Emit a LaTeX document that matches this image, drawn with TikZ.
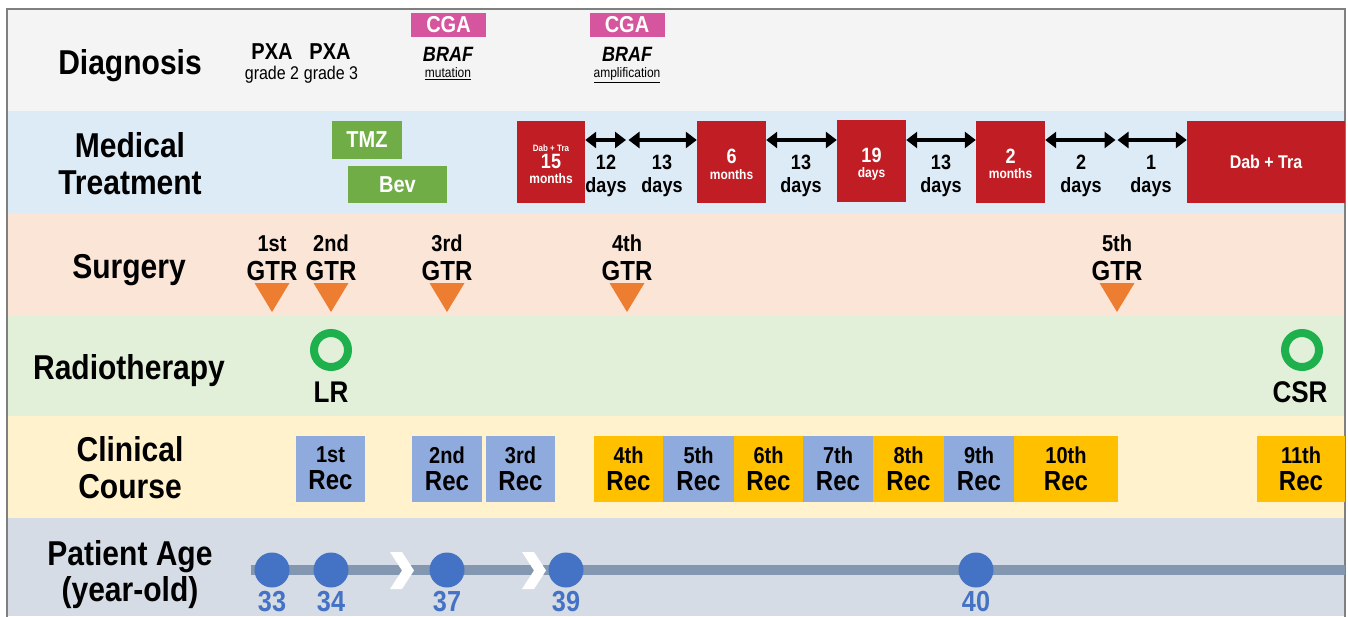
\documentclass[tikz,border=0pt]{standalone}
\usepackage{fontspec}
\setmainfont[FakeStretch=0.87]{Liberation Sans}
\usetikzlibrary{arrows.meta}
\definecolor{diagbg}{HTML}{F4F4F4}
\definecolor{medbg}{HTML}{DDEBF7}
\definecolor{surgbg}{HTML}{FBE5D6}
\definecolor{radbg}{HTML}{E2F0D9}
\definecolor{clinbg}{HTML}{FFF2CC}
\definecolor{agebg}{HTML}{D6DCE5}
\definecolor{cgapink}{HTML}{D5569E}
\definecolor{medgreen}{HTML}{70AD47}
\definecolor{medred}{HTML}{C01E24}
\definecolor{surgorange}{HTML}{ED7D31}
\definecolor{ringgreen}{HTML}{1DB04C}
\definecolor{recblue}{HTML}{8FAADC}
\definecolor{recyellow}{HTML}{FFC000}
\definecolor{agelinec}{HTML}{8497B0}
\definecolor{agedotc}{HTML}{4472C4}
\definecolor{framec}{HTML}{7F7F7F}
\tikzset{
  lab/.style={font=\bfseries\fontsize{34.5}{40}\selectfont, anchor=base, inner sep=0pt},
  diagb/.style={font=\bfseries\fontsize{23}{26}\selectfont, anchor=base, inner sep=0pt},
  diags/.style={font=\fontsize{18.4}{21}\selectfont, anchor=base, inner sep=0pt},
  cgabox/.style={fill=cgapink, text=white, font=\bfseries\fontsize{23}{26}\selectfont, minimum width=75pt, minimum height=24pt, inner sep=0pt},
  braf/.style={font=\bfseries\itshape\fontsize{20.7}{24}\selectfont, anchor=base, inner sep=0pt},
  ultxt/.style={font=\fontsize{13.8}{16}\selectfont, anchor=base, inner sep=0pt},
  medbox/.style={fill=medgreen, text=white, font=\bfseries\fontsize{23}{26}\selectfont, inner sep=0pt},
  redbox/.style={fill=medred, inner sep=0pt, minimum width=69pt, minimum height=82pt},
  redtxt/.style={text=white, anchor=base, inner sep=0pt},
  arr/.style={line width=4.5pt, {Triangle[length=11pt,width=16pt]}-{Triangle[length=11pt,width=16pt]}},
  daytxt/.style={font=\bfseries\fontsize{20.7}{24}\selectfont, anchor=base, inner sep=0pt},
  ordtxt/.style={font=\bfseries\fontsize{23}{26}\selectfont, anchor=base, inner sep=0pt},
  gtrtxt/.style={font=\bfseries\fontsize{27.6}{30}\selectfont, anchor=base, inner sep=0pt},
  tri/.style={fill=surgorange},
  ring/.style={circle, draw=ringgreen, line width=8pt, minimum size=34pt, inner sep=0pt},
  rtxt/.style={font=\bfseries\fontsize{29.9}{33}\selectfont, anchor=base, inner sep=0pt},
  recbox/.style={minimum height=66pt, inner sep=0pt, align=center, font=\bfseries\fontsize{23}{27}\selectfont},
  agedot/.style={circle, fill=agedotc, minimum size=35pt, inner sep=0pt},
  agenum/.style={text=agedotc, font=\bfseries\fontsize{29}{32}\selectfont, anchor=base, inner sep=0pt},
  chev/.style={fill=white}
}
\newcommand{\recl}[1]{#1\\{\fontsize{27.6}{27}\selectfont Rec}}
\begin{document}
\begin{tikzpicture}[x=1pt,y=-1pt]
\useasboundingbox (0,0) rectangle (1348,616);
\fill[white] (0,0) rectangle (1348,616);
% bands
\fill[diagbg] (7,9) rectangle (1345,111);
\fill[medbg] (7,111) rectangle (1345,213);
\fill[surgbg] (7,213) rectangle (1345,316);
\fill[radbg] (7,316) rectangle (1345,416);
\fill[clinbg] (7,416) rectangle (1345,518);
\fill[agebg] (7,518) rectangle (1345,616);
\draw[framec, line width=1.5pt] (7,625) -- (7,9) -- (1345,9) -- (1345,625);

% row labels
\node[lab] (lDiag) at (130,74.4) {Diagnosis};
\node[lab] (lMedA) at (130,157.4) {Medical};
\node[lab] (lMedB) at (130,194.4) {Treatment};
\node[lab] (lSurg) at (129,278.4) {Surgery};
\node[lab] (lRad) at (129,379.4) {Radiotherapy};
\node[lab] (lClinA) at (130,461.4) {Clinical};
\node[lab] (lClinB) at (130,498.4) {Course};
\node[lab] (lAgeA) at (130,565.4) {Patient Age};
\node[lab] (lAgeB) at (130,601.5) {(year-old)};

% diagnosis
\node[diagb] (pxa1) at (272,59.3) {PXA};
\node[diags] (gr2) at (272,79.6) {grade 2};
\node[diagb] (pxa2) at (330,59.3) {PXA};
\node[diags] (gr3) at (331,79.6) {grade 3};
\node[cgabox] (cga1) at (448.5,25) {CGA};
\node[braf] (braf1) at (448,61.5) {BRAF};
\node[ultxt] (mut) at (448,77.5) {\underline{mutation}};
\node[cgabox] (cga2) at (627,25) {CGA};
\node[braf] (braf2) at (627,61.5) {BRAF};
\node[ultxt] (amp) at (627,77.5) {\underline{amplification}};

% medical treatment
\node[medbox, minimum width=70pt, minimum height=38pt] (tmz) at (367,140) {TMZ};
\node[medbox, minimum width=99pt, minimum height=37pt] (bev) at (397.5,184.5) {Bev};
\node[redbox, minimum width=68pt] (r1) at (551,162) {};
\node[redtxt, font=\bfseries\fontsize{9.2}{10}\selectfont] (r1a) at (551,151.3) {Dab + Tra};
\node[redtxt, font=\bfseries\fontsize{20.7}{22}\selectfont] (r1b) at (551,168.5) {15};
\node[redtxt, font=\bfseries\fontsize{13.8}{16}\selectfont] (r1c) at (551,183) {months};
\node[redbox] (r2) at (731.5,162) {};
\node[redtxt, font=\bfseries\fontsize{20.7}{22}\selectfont] (r2a) at (731.5,163.5) {6};
\node[redtxt, font=\bfseries\fontsize{13.8}{16}\selectfont] (r2b) at (731.5,179) {months};
\node[redbox] (r3) at (871.5,161) {};
\node[redtxt, font=\bfseries\fontsize{20.7}{22}\selectfont] (r3a) at (871.5,162.5) {19};
\node[redtxt, font=\bfseries\fontsize{13.8}{16}\selectfont] (r3b) at (871.5,177) {days};
\node[redbox] (r4) at (1010.5,162) {};
\node[redtxt, font=\bfseries\fontsize{20.7}{22}\selectfont] (r4a) at (1010.5,163.5) {2};
\node[redtxt, font=\bfseries\fontsize{13.8}{16}\selectfont] (r4b) at (1010.5,178) {months};
\node[redbox, minimum width=158pt] (r5) at (1266,162) {};
\node[redtxt, font=\bfseries\fontsize{18.4}{20}\selectfont] (r5a) at (1266,168.6) {Dab + Tra};
\coordinate (m1) at (626,140);
\coordinate (m2) at (628.5,140);
\coordinate (m3) at (1115.5,140);
\coordinate (m4) at (1117.5,140);
\draw[arr] (r1.east |- m1) -- (m1);
\draw[arr] (m2) -- (r2.west |- m2);
\draw[arr] (r2.east |- m1) -- (r3.west |- m1);
\draw[arr] (r3.east |- m1) -- (r4.west |- m1);
\draw[arr] (r4.east |- m1) -- (m3);
\draw[arr] (m4) -- (r5.west |- m4);
\node[daytxt] (d1a) at (606,169.5) {12};
\node[daytxt] (d1b) at (606,192.5) {days};
\node[daytxt] (d2a) at (662,169.5) {13};
\node[daytxt] (d2b) at (662,192.5) {days};
\node[daytxt] (d3a) at (801,169.5) {13};
\node[daytxt] (d3b) at (801,192.5) {days};
\node[daytxt] (d4a) at (941,169.5) {13};
\node[daytxt] (d4b) at (941,192.5) {days};
\node[daytxt] (d5a) at (1081,169.5) {2};
\node[daytxt] (d5b) at (1081,192.5) {days};
\node[daytxt] (d6a) at (1151,169.5) {1};
\node[daytxt] (d6b) at (1151,192.5) {days};

% surgery
\foreach \x/\o/\n in {272/1st/s1, 331/2nd/s2, 447/3rd/s3, 627/4th/s4, 1117/5th/s5}{
  \node[ordtxt] (\n o) at (\x,251.3) {\o};
  \node[gtrtxt] (\n g) at (\x,280) {GTR};
  \fill[tri] (\x-17.5,283) -- (\x+17.5,283) -- (\x,312) -- cycle;
}

% radiotherapy
\node[ring] (ringLR) at (331,350) {};
\node[rtxt] (tLR) at (331,402.8) {LR};
\node[ring] (ringCSR) at (1302,350) {};
\node[rtxt] (tCSR) at (1300,402.8) {CSR};

% clinical course
\node[recbox, fill=recblue, minimum width=69pt] (c1) at (330.5,468.5) {\recl{1st}};
\node[recbox, fill=recblue, minimum width=70pt] (c2) at (447,468.5) {\recl{2nd}};
\node[recbox, fill=recblue, minimum width=69pt] (c3) at (520.5,468.5) {\recl{3rd}};
\node[recbox, fill=recyellow, minimum width=69pt] (c4) at (628.5,468.5) {\recl{4th}};
\node[recbox, fill=recblue, minimum width=71pt] (c5) at (698.5,468.5) {\recl{5th}};
\node[recbox, fill=recyellow, minimum width=69pt] (c6) at (768.5,468.5) {\recl{6th}};
\node[recbox, fill=recblue, minimum width=70pt] (c7) at (838,468.5) {\recl{7th}};
\node[recbox, fill=recyellow, minimum width=71pt] (c8) at (908.5,468.5) {\recl{8th}};
\node[recbox, fill=recblue, minimum width=70pt] (c9) at (979,468.5) {\recl{9th}};
\node[recbox, fill=recyellow, minimum width=104pt] (c10) at (1066,468.5) {\recl{10th}};
\node[recbox, fill=recyellow, minimum width=88pt] (c11) at (1301,468.5) {\recl{11th}};

% patient age
\coordinate (ls) at (251,570);
\coordinate (le) at (1345,570);
\draw[agelinec, line width=10pt] (ls) -- (le);
\fill[chev] (390,552) -- (402,552) -- (414,570.5) -- (402,589) -- (390,589) -- (402,570.5) -- cycle;
\fill[chev] (522,552) -- (534,552) -- (546,570.5) -- (534,589) -- (522,589) -- (534,570.5) -- cycle;
\foreach \x/\n in {272/33, 331/34, 447/37, 566/39, 976/40}{
  \node[agedot] (dot\n) at (\x,570) {};
  \node[agenum] (num\n) at (\x,611) {\n};
}
\end{tikzpicture}
\end{document}
